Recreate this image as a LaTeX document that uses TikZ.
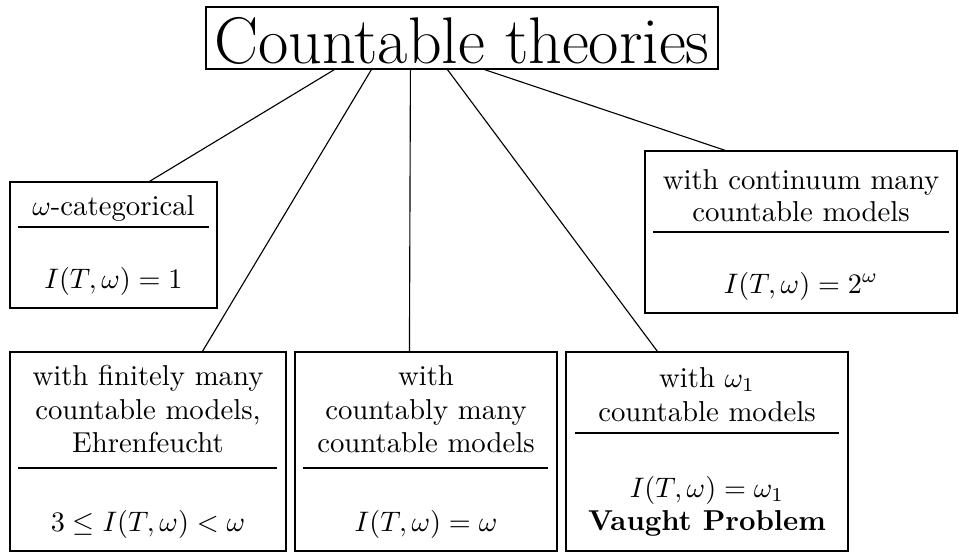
\documentclass[tikz,border=0pt]{standalone}
\usetikzlibrary{calc,fit}
\begin{document}
\begin{tikzpicture}[x=0.3546pt,y=-0.3546pt,
  box/.style={draw,inner sep=0pt,line width=0.4pt},
  txt/.style={anchor=base,inner sep=0pt,font=\fontsize{10.2}{12.2}\selectfont},
  rulestyle/.style={line width=0.4pt},
  link/.style={line width=0.4pt}]
\useasboundingbox (0,0) rectangle (959,552);
% title
\node[box, fit={(206,7) (718,69)}] (title) {};
\node[txt, font=\fontsize{23.4}{28}\selectfont] (titletext) at (462,63) {Countable theories};
% omega-categorical
\node[box, fit={(10,182) (217,308)}] (cat) {};
\node[txt] (cat1) at (113.5,215) {$\omega$-categorical};
\draw[rulestyle] (18,227) -- (209,227);
\node[txt] (cat2) at (113.5,288) {$I(T,\omega)=1$};
% continuum
\node[box, fit={(645,151) (957,313)}] (cont) {};
\node[txt] (cont1) at (801,189) {with continuum many};
\node[txt] (cont2) at (801,221) {countable models};
\draw[rulestyle] (653,232) -- (949,232);
\node[txt] (cont3) at (801,293) {$I(T,\omega)=2^\omega$};
% finitely many
\node[box, fit={(10,352) (286,551)}] (fin) {};
\node[txt] (fin1) at (148,385) {with finitely many};
\node[txt] (fin2) at (148,419) {countable models,};
\node[txt] (fin3) at (148,452) {Ehrenfeucht};
\draw[rulestyle] (18,468) -- (277,468);
\node[txt] (fin4) at (148,531) {$3\le I(T,\omega)<\omega$};
% countably many
\node[box, fit={(295,352) (557,551)}] (cbl) {};
\node[txt] (cbl1) at (426,385) {with};
\node[txt] (cbl2) at (426,419) {countably many};
\node[txt] (cbl3) at (426,452) {countable models};
\draw[rulestyle] (303,468) -- (548,468);
\node[txt] (cbl4) at (426,531) {$I(T,\omega)=\omega$};
% omega_1
\node[box, fit={(566,352) (848,551)}] (om) {};
\node[txt] (om1) at (707,387) {with $\omega_1$};
\node[txt] (om2) at (707,421) {countable models};
\draw[rulestyle] (575,433) -- (839,433);
\node[txt] (om3) at (707,497) {$I(T,\omega)=\omega_1$};
\node[txt] (om4) at (707,530) {\textbf{Vaught Problem}};
% connectors
\draw[link] ($(title.south west)+(129,0)$) -- ($(cat.north west)+(140,0)$);
\draw[link] ($(title.south west)+(166,0)$) -- ($(fin.north west)+(193,0)$);
\draw[link] ($(title.south west)+(205,0)$) -- ($(cbl.north west)+(115,0)$);
\draw[link] ($(title.south west)+(242,0)$) -- ($(om.north west)+(92,0)$);
\draw[link] ($(title.south west)+(279,0)$) -- ($(cont.north west)+(81,0)$);
\end{tikzpicture}
\end{document}
